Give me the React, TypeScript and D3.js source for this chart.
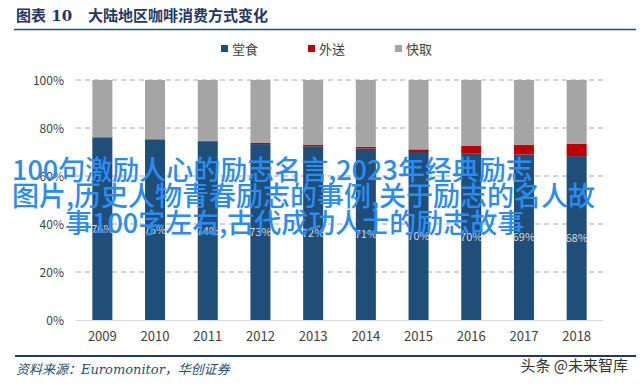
import React from 'react';
import * as d3 from 'd3';

const years = ['2009', '2010', '2011', '2012', '2013', '2014', '2015', '2016', '2017', '2018'];
const dineIn = [76, 75, 74.3, 73.3, 72.4, 71.4, 70, 69.5, 69, 68.3];
const delivery = [0.2, 0.3, 0.4, 0.6, 0.7, 0.8, 1.1, 3, 3.9, 5.2];
const takeaway = dineIn.map((d, i) => 100 - d - delivery[i]);
const labels = ['76%', '75%', '74%', '73%', '72%', '71%', '70%', '70%', '69%', '68%'];
const yTicks = [0, 20, 40, 60, 80, 100];
const seriesNames = ['堂食', '外送', '快取'];
const colors = ['#1f4e79', '#c00000', '#a5a5a5'];
const overlayLines = [
  '100句激励人心的励志名言,2023年经典励志',
  '图片,历史人物青春励志的事例,关于励志的名人故',
  '事100字左右,古代成功人士的励志故事',
];

const width = 640;
const height = 385;

const rows = years.map((y, i) => ({ year: y, a: dineIn[i], b: delivery[i], c: takeaway[i] }));
const stacked = d3.stack<any>().keys(['a', 'b', 'c'])(rows);

const x = d3.scaleBand().domain(years).range([76, 603]).paddingInner(0.62).paddingOuter(0.31);
const y = d3.scaleLinear().domain([0, 100]).range([320, 80]);

const cjk = '"Noto Sans CJK SC", "Noto Sans", sans-serif';

const App = () => {
  return (
    <svg width={width} height={height} style={{ position: 'absolute', left: 0, top: 0 }}>
      <rect width={width} height={height} fill="#fff" />
      {/* title */}
      <text x={16} y={21} fill="#1f3864" fontSize={15} fontWeight="bold" fontFamily={'"DejaVu Serif", ' + cjk}>
        图表 10<tspan dx={16}>大陆地区咖啡消费方式变化</tspan>
      </text>
      <line x1={14} x2={636} y1={29.5} y2={29.5} stroke="#1f4e79" strokeWidth={1.5} />

      {/* legend */}
      {seriesNames.map((s, i) => {
        const lx = [221, 308, 395][i];
        return (
          <g key={s}>
            <rect x={lx} y={45} width={7} height={7} fill={colors[i]} />
            <text x={lx + 11} y={53.5} fontSize={13} fill="#404040" fontFamily={cjk}>{s}</text>
          </g>
        );
      })}

      {/* grid */}
      {yTicks.map(t => (
        <g key={t}>
          {t > 0 ? (
            <line x1={76} x2={603} y1={y(t)} y2={y(t)} stroke="#a6a6a6" strokeDasharray="5,4" strokeWidth={1} />
          ) : null}
          <text x={64} y={y(t) + 4.5} textAnchor="end" fontSize={12} fill="#404040" fontFamily={cjk}>{t}%</text>
        </g>
      ))}

      {/* bars */}
      {stacked.map((layer, li) => (
        <g key={li} fill={colors[li]}>
          {layer.map((d: any) => (
            <rect key={d.data.year} x={x(d.data.year)} width={x.bandwidth()} y={y(d[1])} height={y(d[0]) - y(d[1])} />
          ))}
        </g>
      ))}
      <line x1={76} x2={603} y1={320.5} y2={320.5} stroke="#d9d9d9" strokeWidth={1} />

      {labels.map((l, i) => (
        <text key={years[i]} x={(x(years[i]) as number) + x.bandwidth() / 2} y={y(dineIn[i] / 2) + 4} textAnchor="middle" fontSize={11} fill="#d9d9d9" fontFamily={cjk}>{l}</text>
      ))}

      {years.map(yr => (
        <text key={yr} x={(x(yr) as number) + x.bandwidth() / 2} y={341} textAnchor="middle" fontSize={13} fill="#404040" fontFamily={cjk}>{yr}</text>
      ))}

      {/* footer */}
      <line x1={15} x2={636} y1={356} y2={356} stroke="#1f3864" strokeWidth={2} />
      <text x={16} y={374} fontSize={13} fontStyle="italic" fill="#1f4e79" fontFamily={'"DejaVu Serif", ' + cjk}>资料来源：Euromonitor，华创证券</text>
      <text x={628} y={371} textAnchor="end" fontSize={15} fill="#333" fontFamily={cjk}>头条 @未来智库</text>

      {/* overlay */}
      {overlayLines.map((l, i) => (
        <text key={i} x={[12, 12, 65][i]} y={[180, 206, 233][i]} fontSize={27} fontWeight={500} fill="#2a8cf2" fontFamily={cjk}>{l}</text>
      ))}
    </svg>
  );
};

export default App;
